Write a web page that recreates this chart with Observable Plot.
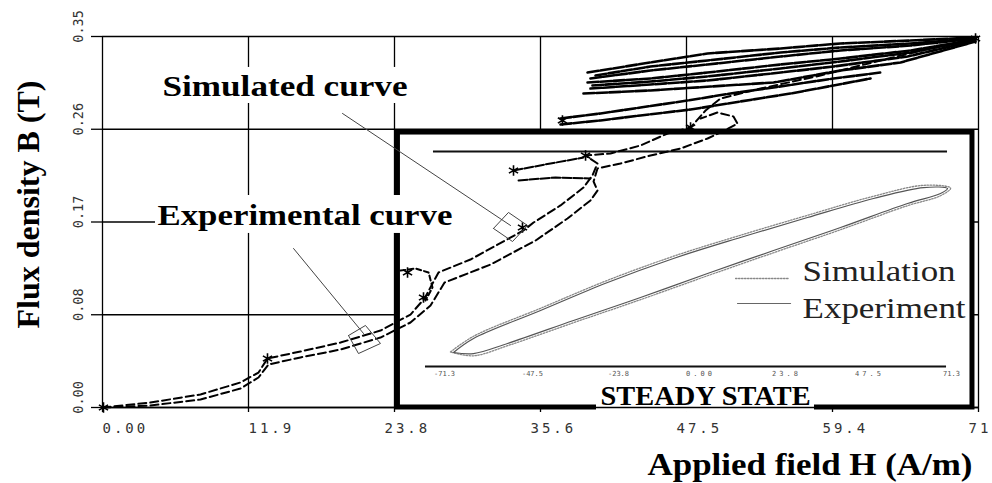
<!DOCTYPE html>
<html>
<head>
<meta charset="utf-8">
<script src="https://cdn.jsdelivr.net/npm/d3@7"></script>
<script src="https://cdn.jsdelivr.net/npm/@observablehq/plot@0.6"></script>
<style>
  html, body { margin: 0; padding: 0; background: #fff; overflow: hidden; }
  #chart svg { display: block; }
</style>
</head>
<body>
<div id="chart"></div>
<script>
// ---------- axis ticks ----------
const xTicks = [0, 11.875, 23.75, 35.625, 47.5, 59.375, 71.25];
const xTickLabels = ["0.00", "11.9", "23.8", "35.6", "47.5", "59.4", "71"];
const yTicks = [0, 0.0875, 0.175, 0.2625, 0.35];
const yTickLabels = ["0.00", "0.08", "0.17", "0.26", "0.35"];

// ---------- main curves (H in A/m, B in T) ----------
const simulatedH = [0, 3.90, 7.97, 11.22, 12.69, 13.42, 16.10, 19.36, 22.61, 25.05, 26.19, 27.33, 29.93, 34.24, 35.06, 37.25, 39.12, 39.85, 40.26, 39.29, 41.32, 43.76, 45.96, 47.83, 49.05, 50.27, 53.52, 58.40, 63.28, 67.35, 71.09];
const simulatedB = [0, 0.0047, 0.0123, 0.0236, 0.0330, 0.0462, 0.0528, 0.0613, 0.0726, 0.0877, 0.1028, 0.1274, 0.1396, 0.1670, 0.1745, 0.1906, 0.2075, 0.2189, 0.2302, 0.2377, 0.2396, 0.2472, 0.2585, 0.2642, 0.2802, 0.2915, 0.3009, 0.3132, 0.3274, 0.3387, 0.3481];

const experimentalH = [0, 3.90, 7.97, 11.22, 12.69, 13.50, 16.10, 19.36, 22.61, 25.05, 26.68, 27.82, 31.56, 35.22, 37.82, 39.69, 40.26, 39.94, 40.26, 42.13, 44.57, 47.01, 49.21, 50.43, 51.65, 51.32, 50.02, 48.64];
const experimentalB = [0, 0.0019, 0.0075, 0.0179, 0.0283, 0.0406, 0.0472, 0.0547, 0.0660, 0.0802, 0.0962, 0.1179, 0.1349, 0.1575, 0.1783, 0.1953, 0.2047, 0.2132, 0.2255, 0.2302, 0.2377, 0.2443, 0.2538, 0.2604, 0.2679, 0.2745, 0.2783, 0.2726];

const hookH = [24.24, 25.46, 26.52, 26.84, 26.27];
const hookB = [0.1292, 0.1311, 0.1274, 0.1132, 0.1009];

const minor1 = [[33.43, 0.2236], [36.44, 0.2302], [39.12, 0.2358]];
const minor2 = [[33.84, 0.2142], [36.85, 0.2170], [39.69, 0.2160]];

// minor loops crowding near saturation
const band1 = [[39.45, 0.3160], [44.57, 0.3255], [49.21, 0.3340], [55.15, 0.3387], [60.03, 0.3434], [65.72, 0.3462], [71.01, 0.3491]];
const band2 = [[39.69, 0.3104], [44.57, 0.3179], [49.21, 0.3236], [55.15, 0.3311], [60.03, 0.3368], [65.72, 0.3415], [71.01, 0.3481]];
const band3 = [[39.45, 0.3066], [44.57, 0.3104], [49.21, 0.3160], [55.15, 0.3236], [60.03, 0.3292], [65.72, 0.3368], [71.01, 0.3472]];
const band4 = [[39.69, 0.3009], [44.57, 0.3047], [49.21, 0.3085], [55.15, 0.3160], [59.46, 0.3217], [65.48, 0.3311], [71.01, 0.3462]];
const band5 = [[39.12, 0.2962], [44.57, 0.2991], [49.45, 0.3028], [54.58, 0.3066], [60.03, 0.3179], [64.91, 0.3255], [71.01, 0.3453]];
const band6 = [[37.25, 0.2726], [40.51, 0.2774], [43.76, 0.2830], [47.58, 0.2896], [51.08, 0.2962], [54.58, 0.3019], [59.46, 0.3104], [63.28, 0.3160]];
const band7 = [[37.25, 0.2670], [40.51, 0.2708], [43.76, 0.2755], [47.83, 0.2811], [51.89, 0.2887], [55.96, 0.2962], [59.46, 0.3038], [62.47, 0.3104]];
const band8 = [[40.10, 0.3132], [44.57, 0.3217], [49.21, 0.3274], [55.15, 0.3349], [60.03, 0.3396], [65.72, 0.3434], [71.01, 0.3481]];
const band9 = [[39.85, 0.3038], [44.57, 0.3075], [49.21, 0.3123], [55.15, 0.3198], [60.03, 0.3264], [65.72, 0.3349], [71.01, 0.3472]];

const starH = [0.08, 13.42, 26.11, 24.81, 34.16, 39.29, 33.43, 47.83, 37.41, 71.01];
const starB = [0, 0.0462, 0.1038, 0.1274, 0.1698, 0.2377, 0.2236, 0.2642, 0.2708, 0.3481];

// ---------- steady-state loop (inset) ----------
const loopExpH = [28.55, 30.18, 35.63, 41.08, 46.44, 51.89, 57.34, 62.71, 66.78, 68.73, 68.16, 65.48, 60.03, 54.58, 49.21, 43.76, 38.31, 32.94, 30.18, 28.55];
const loopExpB = [0.0519, 0.0651, 0.0915, 0.1179, 0.1406, 0.1604, 0.1792, 0.1972, 0.2075, 0.2066, 0.2019, 0.1925, 0.1698, 0.1481, 0.1264, 0.1038, 0.0821, 0.0604, 0.0509, 0.0519];
const loopSimH = [28.30, 30.18, 35.63, 41.08, 46.44, 51.89, 57.34, 62.71, 66.78, 68.98, 68.16, 65.48, 60.03, 54.58, 49.21, 43.76, 38.31, 32.94, 30.18, 28.30];
const loopSimB = [0.0524, 0.0672, 0.0936, 0.1200, 0.1427, 0.1625, 0.1813, 0.1993, 0.2096, 0.2070, 0.1998, 0.1904, 0.1677, 0.1460, 0.1243, 0.1017, 0.0800, 0.0583, 0.0488, 0.0524];

const insetBox = [{H1: 24.03, H2: 70.76, B1: 0, B2: 0.2594}];
const insetTopLine = [{H1: 26.92, H2: 68.73, B: 0.2415}];
const insetBottomLine = [{H1: 26.27, H2: 68.65, B: 0.0387}];
const insetTickH = [27.82, 34.97, 41.97, 48.64, 55.63, 62.38, 69.05];
const insetTickLabels = ["-71.3", "-47.5", "-23.8", "0.00", "23.8", "47.5", "71.3"];
const insetTickB = 0.0321;

const legendSimLine = [[51.49, 0.1217], [55.80, 0.1217]];
const legendExpLine = [[51.65, 0.0981], [55.96, 0.0981]];

// ---------- annotations ----------
const simLeader = [[19.52, 0.2774], [33.19, 0.1717]];
const simBox = [[31.80, 0.1689], [33.02, 0.1840], [34.57, 0.1717], [33.35, 0.1566], [31.80, 0.1689]];
const expLeader = [[15.54, 0.1500], [21.23, 0.0698]];
const expBox = [[20.01, 0.0679], [21.39, 0.0774], [22.61, 0.0604], [20.82, 0.0509], [20.01, 0.0679]];

const labels = [
  {text: "Simulated curve", H: 4.88, B: 0.2934},
  {text: "Experimental curve", H: 4.47, B: 0.1717}
];
const labelBackgrounds = [
  {H1: 4.55, H2: 25.05, B1: 0.2868, B2: 0.3208},
  {H1: 4.31, H2: 28.71, B1: 0.1642, B2: 0.2000}
];
const legendItems = [
  {text: "Simulation", H: 56.94, B: 0.1189},
  {text: "Experiment", H: 56.94, B: 0.0840}
];
const steadyLabel = [{text: "STEADY STATE", H: 40.51, B: 0.0028}];
const steadyBackground = [{H1: 40.18, H2: 57.91, B1: -0.0047, B2: 0.0245}];

// ---------- build ----------
const rows = (hs, bs) => hs.map((h, i) => ({H: h, B: bs[i]}));
const serif = "'Liberation Serif', 'Times New Roman', serif";
const mono = "'DejaVu Sans Mono', 'Liberation Mono', monospace";
const bands = [band1, band2, band3, band4, band5, band6, band7, band8, band9];

const svg = Plot.plot({
  width: 992,
  height: 483,
  marginLeft: 102,
  marginRight: 14,
  marginTop: 36,
  marginBottom: 76,
  x: {domain: [0, 71.25]},
  y: {domain: [0, 0.35]},
  style: {background: "white", color: "black", overflow: "visible"},
  marks: [
    Plot.gridX(xTicks, {stroke: "black", strokeOpacity: 1, strokeWidth: 1.3}),
    Plot.gridY(yTicks, {stroke: "black", strokeOpacity: 1, strokeWidth: 1.3}),
    Plot.axisX(xTicks, {tickSize: 5, tickFormat: () => "", strokeWidth: 1.3}),
    Plot.axisY(yTicks, {tickSize: 11, tickFormat: () => "", strokeWidth: 1.3}),

    // inset frame
    Plot.rect(insetBox, {x1: "H1", x2: "H2", y1: "B1", y2: "B2", fill: "white", stroke: "black", strokeWidth: 5}),
    Plot.ruleY(insetTopLine, {x1: "H1", x2: "H2", y: "B", stroke: "#111", strokeWidth: 2}),
    Plot.ruleY(insetBottomLine, {x1: "H1", x2: "H2", y: "B", stroke: "#111", strokeWidth: 2}),
    Plot.text(insetTickH, {x: d => d, y: insetTickB, text: (d, i) => insetTickLabels[i], fontFamily: mono, fontSize: 7, fill: "#555"}),

    // steady state loop
    Plot.line(rows(loopSimH, loopSimB), {x: "H", y: "B", curve: "catmull-rom", stroke: "#888", strokeWidth: 1.3, strokeDasharray: "1.5,1.5"}),
    Plot.line(rows(loopExpH, loopExpB), {x: "H", y: "B", curve: "catmull-rom", stroke: "#555", strokeWidth: 1.2}),
    Plot.line(legendSimLine, {stroke: "#888", strokeWidth: 1.3, strokeDasharray: "1.5,1.5"}),
    Plot.line(legendExpLine, {stroke: "#666", strokeWidth: 1.2}),
    Plot.text(legendItems, {x: "H", y: "B", text: "text", textAnchor: "start", lineAnchor: "bottom", fontFamily: serif, fontSize: 30, fill: "#222"}),

    // main curves
    ...bands.map(b => Plot.line(b, {stroke: "black", strokeWidth: 2.6, strokeDasharray: "11,2"})),
    Plot.line(rows(simulatedH, simulatedB), {x: "H", y: "B", stroke: "black", strokeWidth: 2, strokeDasharray: "8,4"}),
    Plot.line(rows(experimentalH, experimentalB), {x: "H", y: "B", stroke: "black", strokeWidth: 2, strokeDasharray: "8,4"}),
    Plot.line(rows(hookH, hookB), {x: "H", y: "B", stroke: "black", strokeWidth: 2, strokeDasharray: "5,3"}),
    Plot.line(minor1, {stroke: "black", strokeWidth: 2, strokeDasharray: "9,2"}),
    Plot.line(minor2, {stroke: "black", strokeWidth: 2, strokeDasharray: "9,2"}),
    Plot.dot(rows(starH, starB), {x: "H", y: "B", symbol: "asterisk", r: 5, stroke: "black", strokeWidth: 1.6}),

    // annotations
    Plot.line(simLeader, {stroke: "#444", strokeWidth: 1}),
    Plot.line(simBox, {stroke: "#444", strokeWidth: 1}),
    Plot.line(expLeader, {stroke: "#444", strokeWidth: 1}),
    Plot.line(expBox, {stroke: "#444", strokeWidth: 1}),
    Plot.rect(labelBackgrounds, {x1: "H1", x2: "H2", y1: "B1", y2: "B2", fill: "white"}),
    Plot.text(labels, {x: "H", y: "B", text: "text", textAnchor: "start", lineAnchor: "bottom", fontFamily: serif, fontWeight: "bold", fontSize: 30, fill: "black"}),
    Plot.rect(steadyBackground, {x1: "H1", x2: "H2", y1: "B1", y2: "B2", fill: "white"}),
    Plot.ruleY([0], {x1: 0, x2: 71.25, stroke: "black", strokeWidth: 1.3}),
    Plot.text(steadyLabel, {x: "H", y: "B", text: "text", textAnchor: "start", lineAnchor: "bottom", fontFamily: serif, fontWeight: "bold", fontSize: 27, fill: "black"}),

    // tick labels
    Plot.text(yTicks, {x: 0, y: d => d, text: (d, i) => yTickLabels[i], rotate: -90, textAnchor: "middle", lineAnchor: "bottom", dx: -20, dy: -10, fontFamily: mono, fontSize: 13.5, fill: "#333"}),
    Plot.text(xTicks, {filter: (d, i) => i < 2, x: d => d, y: 0, text: (d, i) => xTickLabels[i], textAnchor: "start", lineAnchor: "bottom", dx: 0, dy: 25, fontFamily: mono, fontSize: 14, fill: "#333"}),
    Plot.text(xTicks, {filter: (d, i) => i >= 2, x: d => d, y: 0, text: (d, i) => xTickLabels[i], textAnchor: "start", lineAnchor: "bottom", dx: -10, dy: 25, fontFamily: mono, fontSize: 14, fill: "#333"}),

    // axis titles
    Plot.text(["Applied field H (A/m)"], {frameAnchor: "bottom-right", textAnchor: "start", lineAnchor: "bottom", dx: -331, dy: 67, fontFamily: serif, fontWeight: "bold", fontSize: 31, fill: "black"}),
    Plot.text(["Flux density B (T)"], {frameAnchor: "left", rotate: -90, textAnchor: "start", lineAnchor: "bottom", dx: -64, dy: 106.5, fontFamily: serif, fontWeight: "bold", fontSize: 31, fill: "black"})
  ]
});

document.getElementById("chart").appendChild(svg);

// horizontal stretch of the scanned typography
const fit = {
  "Simulated curve": 245,
  "Experimental curve": 295,
  "Applied field H (A/m)": 325,
  "Flux density B (T)": 248,
  "STEADY STATE": 210,
  "Simulation": 153,
  "Experiment": 163
};
d3.select(svg).selectAll("text").each(function () {
  const t = this.textContent;
  if (fit[t]) {
    this.setAttribute("textLength", fit[t]);
    this.setAttribute("lengthAdjust", "spacingAndGlyphs");
  }
  if (xTickLabels.includes(t) && this.getAttribute("transform") && !this.getAttribute("transform").includes("rotate")) {
    this.style.letterSpacing = "3px";
  }
});
</script>
</body>
</html>
